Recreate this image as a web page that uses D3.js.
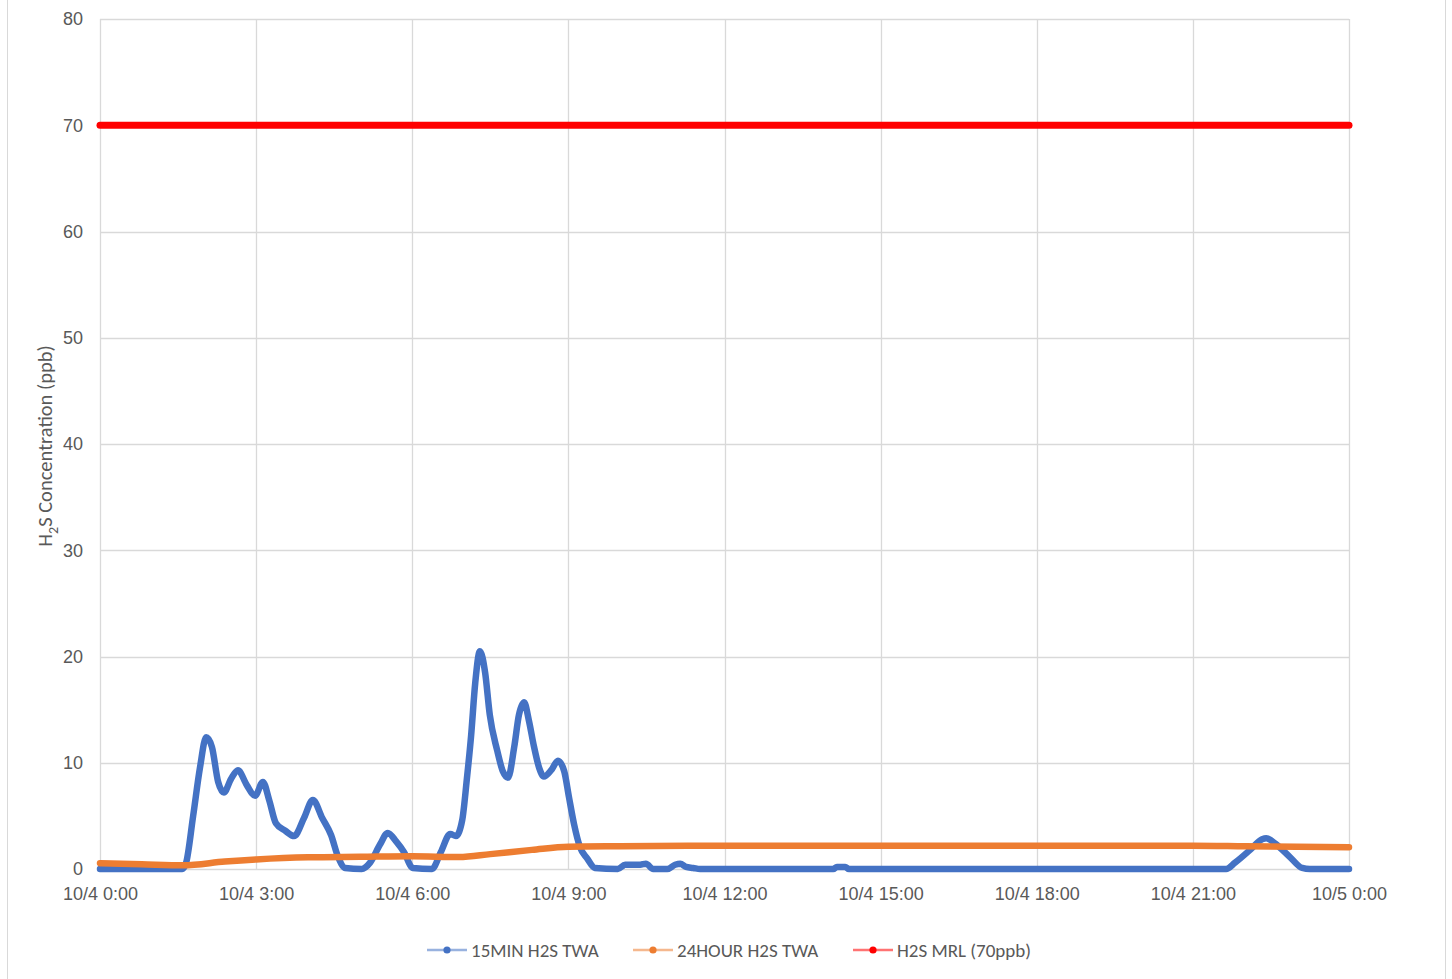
<!DOCTYPE html>
<html>
<head>
<meta charset="utf-8">
<script src="https://cdn.jsdelivr.net/npm/d3@7"></script>
<style>
  body { margin: 0; background: #fff; }
  svg { display: block; font-family: Carlito, Lato, "Open Sans", sans-serif; }
</style>
</head>
<body>
<svg id="chart" width="1452" height="979"></svg>
<script>
// hours since 10/4 0:00
const xTickLabels = ["10/4 0:00", "10/4 3:00", "10/4 6:00", "10/4 9:00", "10/4 12:00",
  "10/4 15:00", "10/4 18:00", "10/4 21:00", "10/5 0:00"]
const yTicks = [0, 10, 20, 30, 40, 50, 60, 70, 80]

// 15MIN H2S TWA
const min15Hours = [0, 1.58, 1.65, 1.79, 1.92, 2.04, 2.15, 2.27, 2.38, 2.52, 2.65, 2.82, 2.98,
  3.13, 3.25, 3.38, 3.56, 3.73, 3.92, 4.09, 4.27, 4.44, 4.57, 4.71, 5.03, 5.19, 5.38, 5.53,
  5.69, 5.84, 6.01, 6.38, 6.55, 6.73, 6.84, 6.96, 7.05, 7.13, 7.21, 7.30, 7.40, 7.49, 7.63,
  7.74, 7.84, 7.96, 8.05, 8.15, 8.24, 8.34, 8.44, 8.53, 8.67, 8.80, 8.92, 9.01, 9.11, 9.22,
  9.36, 9.51, 9.95, 10.09, 10.38, 10.49, 10.63, 10.90, 11.05, 11.15, 11.26, 11.40, 11.53,
  14.09, 14.16, 14.32, 14.39, 21.64, 21.81, 22.10, 22.33, 22.41, 22.58, 22.87, 23.10, 23.25, 24]
const min15Values = [0, 0, 0.5, 5, 9.5, 12.4, 11.5, 8.2, 7.2, 8.5, 9.3, 7.9, 6.9,
  8.2, 6.5, 4.3, 3.6, 3.1, 4.8, 6.5, 4.8, 3.2, 1.2, 0.1, 0, 0.6, 2.3, 3.4,
  2.6, 1.6, 0.1, 0, 1.6, 3.3, 3.1, 4.6, 8.5, 12.5, 17.5, 20.5, 18.5, 14.5, 11.2,
  9.2, 8.6, 11.5, 14.5, 15.7, 14.0, 11.5, 9.5, 8.7, 9.3, 10.2, 9.2, 6.8, 4.2, 2.1,
  1.0, 0.1, 0, 0.4, 0.4, 0.5, 0, 0, 0.4, 0.5, 0.2, 0.1, 0,
  0, 0.2, 0.2, 0, 0, 0.6, 1.8, 2.8, 2.9, 2.4, 1.1, 0.1, 0, 0]

// 24HOUR H2S TWA
const hour24Hours = [0, 0.8, 1.6, 2.4, 3.0, 4.0, 5.0, 6.0, 6.9, 7.5, 8.3, 9.0, 10.0, 11.5, 21.0, 22.0, 24.0]
const hour24Values = [0.55, 0.45, 0.35, 0.7, 0.9, 1.1, 1.15, 1.2, 1.12, 1.4, 1.8, 2.1, 2.15, 2.2, 2.2, 2.15, 2.05]

// H2S MRL (70ppb)
const mrlHours = [0, 24]
const mrlValues = [70, 70]

const seriesNames = ["15MIN H2S TWA", "24HOUR H2S TWA", "H2S MRL (70ppb)"]
const seriesColors = ["#4472c4", "#ed7d31", "#ff0000"]

const svg = d3.select("#chart")
const plot = {left: 100, right: 1349, top: 19, bottom: 869}

const x = d3.scaleLinear().domain([0, 24]).range([plot.left, plot.right])
const y = d3.scaleLinear().domain([0, 80]).range([plot.bottom, plot.top])

// outer chart border
svg.append("rect")
    .attr("x", 7.5).attr("y", -5)
    .attr("width", 1438).attr("height", 995)
    .attr("fill", "none").attr("stroke", "#d9d9d9")

// gridlines
const grid = svg.append("g").attr("stroke", "#d9d9d9").attr("stroke-width", 1.3)
yTicks.forEach(t => {
    grid.append("line")
        .attr("x1", plot.left).attr("x2", plot.right)
        .attr("y1", Math.round(y(t)) + 0.5).attr("y2", Math.round(y(t)) + 0.5)
})
xTickLabels.forEach((lab, i) => {
    grid.append("line")
        .attr("x1", Math.round(x(i * 3)) + 0.5).attr("x2", Math.round(x(i * 3)) + 0.5)
        .attr("y1", plot.top).attr("y2", plot.bottom)
})

// axes (labels only)
const yAxis = d3.axisLeft(y).tickValues(yTicks).tickSize(0).tickPadding(17)
svg.append("g")
    .attr("transform", `translate(${plot.left},0)`)
    .call(yAxis)
    .call(g => g.select(".domain").remove())
    .selectAll("text")
    .attr("fill", "#595959").attr("font-size", 18).attr("font-family", null)

const xAxis = d3.axisBottom(x)
    .tickValues(xTickLabels.map((d, i) => i * 3))
    .tickFormat((d, i) => xTickLabels[i])
    .tickSize(0).tickPadding(18)
svg.append("g")
    .attr("transform", `translate(0,${plot.bottom})`)
    .call(xAxis)
    .call(g => g.select(".domain").remove())
    .selectAll("text")
    .attr("fill", "#595959").attr("font-size", 18).attr("font-family", null)

// y axis title with subscript
const yTitle = svg.append("text")
    .attr("transform", "translate(52,446) rotate(-90)")
    .attr("text-anchor", "middle")
    .attr("fill", "#595959")
    .attr("font-size", 20.5)
yTitle.append("tspan").text("H")
yTitle.append("tspan").text("2").attr("font-size", 14).attr("dy", 6)
yTitle.append("tspan").text("S Concentration (ppb)").attr("dy", -6)

// series
const line = d3.line()
    .x(d => x(d[0]))
    .y(d => y(d[1]))
    .curve(d3.curveMonotoneX)

const allSeries = [
    d3.zip(min15Hours, min15Values),
    d3.zip(hour24Hours, hour24Values),
    d3.zip(mrlHours, mrlValues)
]
const widths = [6.5, 6.5, 7]

allSeries.forEach((pts, i) => {
    svg.append("path")
        .datum(pts)
        .attr("d", line)
        .attr("fill", "none")
        .attr("stroke", seriesColors[i])
        .attr("stroke-width", widths[i])
        .attr("stroke-linecap", "round")
        .attr("stroke-linejoin", "round")
})

// legend
const legendX = [427, 633, 853]
const legend = svg.append("g").attr("transform", "translate(0,950)")
seriesNames.forEach((name, i) => {
    const g = legend.append("g").attr("transform", `translate(${legendX[i]},0)`)
    g.append("line")
        .attr("x1", 0).attr("x2", 40)
        .attr("stroke", seriesColors[i]).attr("stroke-opacity", 0.55)
        .attr("stroke-width", 2.5)
    g.append("circle")
        .attr("cx", 20).attr("r", 3.6)
        .attr("fill", seriesColors[i])
    g.append("text")
        .attr("x", 44).attr("dy", "0.35em")
        .attr("fill", "#595959").attr("font-size", 19)
        .text(name)
})
</script>
</body>
</html>
